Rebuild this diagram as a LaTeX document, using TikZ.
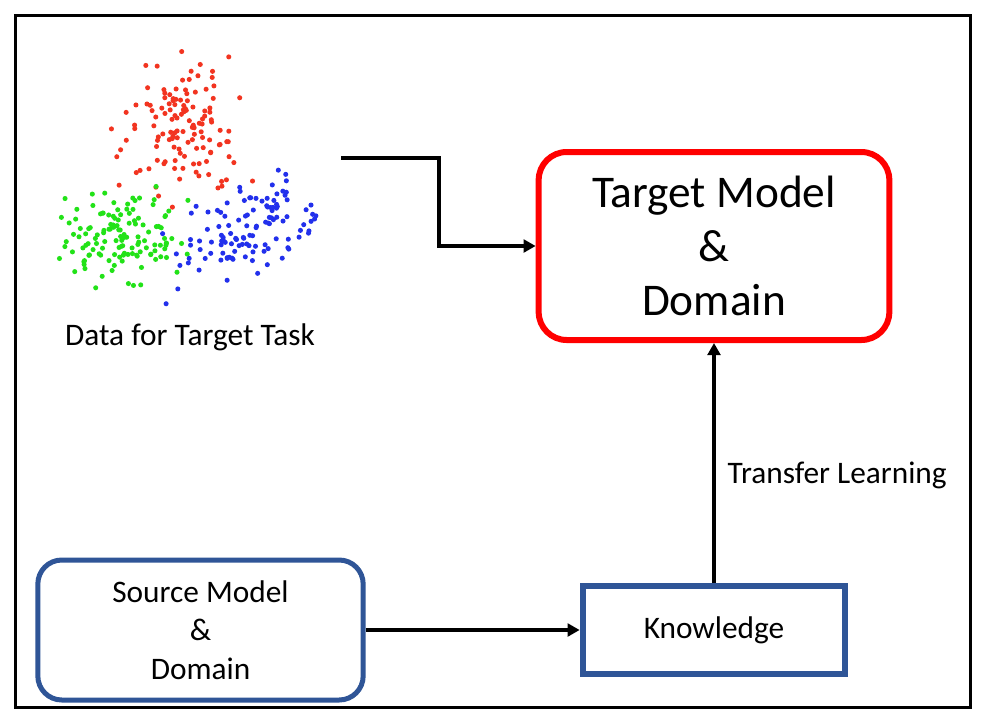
\documentclass[tikz,border=0pt]{standalone}
\usepackage{fontspec}
\setmainfont{Carlito}
\usetikzlibrary{positioning,arrows.meta}
\definecolor{srcblue}{RGB}{47,85,151}
\definecolor{ptred}{RGB}{242,52,32}
\definecolor{ptgreen}{RGB}{34,226,24}
\definecolor{ptblue}{RGB}{34,48,236}
\tikzstyle{tbox}=[rectangle, rounded corners=21pt, draw=red, line width=4.5pt,
                  minimum width=263pt, minimum height=141pt, inner sep=0pt,
                  align=center, font=\fontsize{34}{40.5}\selectfont]
\tikzstyle{sbox}=[rectangle, rounded corners=18pt, draw=srcblue, line width=3.75pt,
                  minimum width=244pt, minimum height=105pt, inner sep=0pt,
                  align=center, font=\fontsize{23.5}{29}\selectfont]
\tikzstyle{kbox}=[rectangle, draw=srcblue, line width=4.5pt,
                  minimum width=197pt, minimum height=66pt, inner sep=0pt,
                  font=\fontsize{23.5}{29}\selectfont]
\tikzstyle{pline}=[-{Triangle[length=9pt,width=9.5pt]}, line width=2.6pt]
\tikzstyle{lbl}=[inner sep=0pt, font=\fontsize{23.5}{29}\selectfont]
\tikzstyle{rdot}=[fill=ptred]
\tikzstyle{gdot}=[fill=ptgreen]
\tikzstyle{bdot}=[fill=ptblue]

\begin{document}
\begin{tikzpicture}[x=0.75pt, y=-0.75pt]
\useasboundingbox[fill=white] (0,0) rectangle (990,726);
\draw[line width=2.6pt] (15.5,15.5) rectangle (970.5,707.5);

\pgfmathsetseed{11}
\foreach \i in {1,...,130}{
  \pgfmathsetmacro\px{180+27*(rand+rand+rand)}
  \pgfmathsetmacro\py{132+32*(rand+rand+rand)}
  \fill[rdot] (\px,\py) circle[radius=1.9pt];
}
\foreach \i in {1,...,130}{
  \pgfmathsetmacro\px{118+30*(rand+rand+rand)}
  \pgfmathsetmacro\py{240+22*(rand+rand+rand)}
  \fill[gdot] (\px,\py) circle[radius=1.9pt];
}
\foreach \i in {1,...,120}{
  \pgfmathsetmacro\px{245+36*(rand+rand+rand)}
  \pgfmathsetmacro\py{230-0.35*(\px-245)+21*(rand+rand+rand)}
  \fill[bdot] (\px,\py) circle[radius=1.9pt];
}

\node (DATA) [lbl, anchor=base] at (190,345) {Data for Target Task};
\coordinate (DATAOUT) at (341,158);

\node (TARGET) [tbox] at (714,246) {Target Model\\\&\\Domain};
\node (KNOW) [kbox, below=180pt of TARGET] {Knowledge};
\node (SOURCE) [sbox, left=160.5pt of KNOW] {Source Model\\\&\\Domain};

 \draw[pline] (DATAOUT) -- ++(98,0) |- (TARGET.west);
 \draw[pline] (SOURCE.east) -- (KNOW.west);
 \draw[pline] (KNOW.north) -- node[lbl, right=9pt, pos=0.45] (TLABEL) {Transfer Learning} (TARGET.south);

\end{tikzpicture}
\end{document}
